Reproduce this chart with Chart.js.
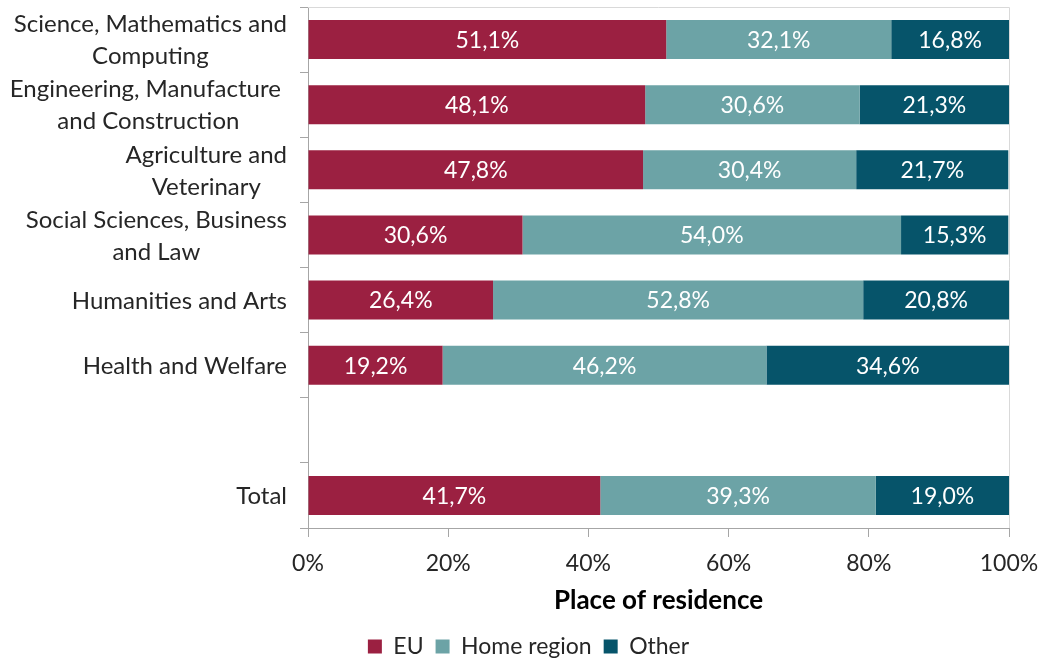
<!DOCTYPE html>
<html>
<head>
<meta charset="utf-8">
<title>Place of residence by field of study</title>
<script src="https://cdn.jsdelivr.net/npm/chart.js@4.4.0/dist/chart.umd.min.js"></script>
<style>
  html, body { margin: 0; padding: 0; background: #ffffff; }
  #wrap { width: 1044px; height: 661px; position: relative; }
</style>
</head>
<body>
<div id="wrap"><canvas id="residenceChart"></canvas></div>
<script>
// --- data ---
const categories = [
    ["Science, Mathematics and", "Computing"],
    ["Engineering, Manufacture ", "and Construction"],
    ["Agriculture and", "Veterinary"],
    ["Social Sciences, Business", "and Law"],
    ["Humanities and Arts"],
    ["Health and Welfare"],
    [""],
    ["Total"],
];
const euValues    = [51.1, 48.1, 47.8, 30.6, 26.4, 19.2, null, 41.7];
const homeValues  = [32.1, 30.6, 30.4, 54.0, 52.8, 46.2, null, 39.3];
const otherValues = [16.8, 21.3, 21.7, 15.3, 20.8, 34.6, null, 19.0];
const xTicks = [0, 20, 40, 60, 80, 100];

// --- colors ---
const palette = {
    eu: "#9b2041",
    home: "#6ca3a6",
    other: "#06546a",
    text: "#262626",
    axis: "#a6a6a6",
    frame: "#d9d9d9",
};

const FONT = "Lato";
Chart.defaults.font.family = FONT;
Chart.defaults.color = palette.text;

const fmtPct = (v) => v.toFixed(1).replace(".", ",") + "%";

// category labels: block right-aligned, lines centered inside the block
const categoryLabels = {
    id: "categoryLabels",
    afterDraw(chart) {
        const { ctx } = chart;
        const y = chart.scales.y;
        const right = 287;
        const lh = 32;
        ctx.save();
        ctx.font = `24px ${FONT}`;
        ctx.fillStyle = palette.text;
        ctx.textAlign = "center";
        ctx.textBaseline = "middle";
        categories.forEach((lines, i) => {
            const cy = y.getPixelForValue(i) + 1;
            const w = Math.max(...lines.map((l) => ctx.measureText(l).width));
            const cx = right - w / 2;
            const y0 = cy - ((lines.length - 1) * lh) / 2;
            lines.forEach((l, k) => ctx.fillText(l, cx, y0 + k * lh));
        });
        ctx.restore();
    },
};

// white value labels centred in each segment
const segmentLabels = {
    id: "segmentLabels",
    afterDatasetsDraw(chart) {
        const { ctx } = chart;
        ctx.save();
        ctx.font = `23px ${FONT}`;
        ctx.fillStyle = "#ffffff";
        ctx.textAlign = "center";
        ctx.textBaseline = "middle";
        chart.data.datasets.forEach((ds, di) => {
            const meta = chart.getDatasetMeta(di);
            meta.data.forEach((bar, i) => {
                const v = ds.data[i];
                if (v == null) return;
                const { x, base, y } = bar.getProps(["x", "base", "y"], true);
                ctx.fillText(fmtPct(v), (x + base) / 2, y + 1);
            });
        });
        ctx.restore();
    },
};

// light frame on top and right of the plot
const plotFrame = {
    id: "plotFrame",
    beforeDatasetsDraw(chart) {
        const { ctx, chartArea: a } = chart;
        ctx.save();
        ctx.strokeStyle = palette.frame;
        ctx.lineWidth = 1;
        ctx.beginPath();
        ctx.moveTo(a.left, a.top + 0.5);
        ctx.lineTo(a.right + 0.5, a.top + 0.5);
        ctx.lineTo(a.right + 0.5, a.bottom);
        ctx.stroke();
        ctx.restore();
    },
};

// nudge the legend a little right of the canvas centre
const legendShift = {
    id: "legendShift",
    afterLayout(chart) {
        const lg = chart.legend;
        if (!lg) return;
        lg.left += 24;
        lg.right += 24;
    },
};

new Chart(document.getElementById("residenceChart"), {
    type: "bar",
    data: {
        labels: categories.map((l) => l.join(" ")),
        datasets: [
            { label: "EU", data: euValues, backgroundColor: palette.eu },
            { label: "Home region", data: homeValues, backgroundColor: palette.home },
            { label: "Other", data: otherValues, backgroundColor: palette.other },
        ],
    },
    options: {
        indexAxis: "y",
        responsive: true,
        maintainAspectRatio: false,
        animation: false,
        categoryPercentage: 0.6,
        barPercentage: 1,
        // legend sits low, close to the bottom edge
        layout: { padding: { top: 7, right: 35, left: 0, bottom: -7 } },
        scales: {
            x: {
                stacked: true,
                min: 0,
                max: 100,
                afterBuildTicks(scale) {
                    scale.ticks = xTicks.map((v) => ({ value: v }));
                },
                afterFit(scale) {
                    scale.height = 95;
                    scale.paddingLeft = 0;
                    scale.paddingRight = 0;
                },
                ticks: {
                    font: { size: 23 },
                    color: palette.text,
                    padding: 13,
                    callback: (v) => v + "%",
                },
                grid: {
                    drawOnChartArea: false,
                    drawTicks: true,
                    tickLength: 9,
                    color: palette.axis,
                },
                border: { display: true, color: palette.axis },
                title: {
                    display: true,
                    text: "Place of residence",
                    font: { size: 26, weight: "bold" },
                    color: "#000000",
                    padding: { top: 0, bottom: 7 },
                },
            },
            y: {
                stacked: true,
                afterFit(scale) {
                    scale.width = 308;
                },
                ticks: { display: false },
                grid: {
                    offset: true,
                    drawOnChartArea: false,
                    drawTicks: true,
                    tickLength: 8,
                    color: palette.axis,
                },
                border: { display: true, color: palette.axis },
            },
        },
        plugins: {
            legend: {
                position: "bottom",
                labels: {
                    font: { size: 23 },
                    color: palette.text,
                    boxWidth: 14,
                    boxHeight: 14,
                    padding: 12,
                },
            },
            tooltip: { enabled: false },
        },
    },
    plugins: [plotFrame, segmentLabels, categoryLabels, legendShift],
});
</script>
</body>
</html>
